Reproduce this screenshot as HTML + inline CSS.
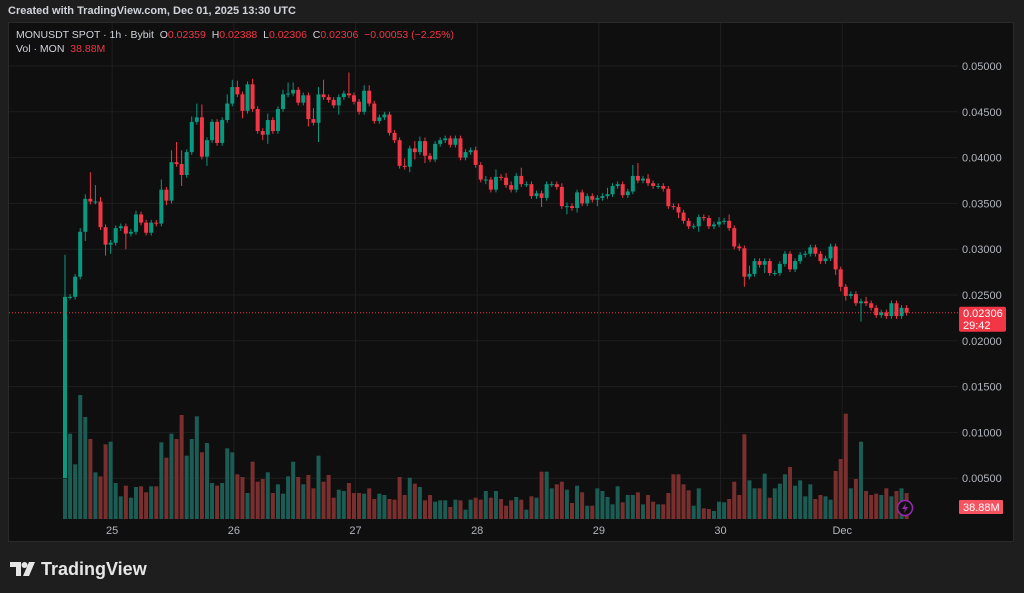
<!DOCTYPE html>
<html><head><meta charset="utf-8"><style>
html,body{margin:0;padding:0;background:#1e1e1e;width:1024px;height:593px;overflow:hidden;font-family:"Liberation Sans",sans-serif;}
#hdr{position:absolute;left:8px;top:5px;color:#d1d4dc;font-size:11px;font-weight:bold;}
#panel{position:absolute;left:8px;top:22px;width:1006px;height:520px;background:#0f0f0f;border:1px solid #2a2a2a;box-sizing:border-box;}
svg{position:absolute;left:0;top:0;}
.leg{position:absolute;left:16px;color:#d1d4dc;font-size:10.5px;white-space:pre;}
.r{color:#f23645;}
#logo{position:absolute;left:10px;top:557px;color:#e6e6e6;font-size:18px;font-weight:bold;}
</style></head><body>
<div id="hdr">Created with TradingView.com, Dec 01, 2025 13:30 UTC</div>
<div id="panel"></div>
<svg id="chart" width="1024" height="593"></svg>
<div class="leg" style="top:29px">MONUSDT SPOT · 1h · Bybit  O<span class="r">0.02359</span>  H<span class="r">0.02388</span>  L<span class="r">0.02306</span>  C<span class="r">0.02306</span>  <span class="r">−0.00053 (−2.25%)</span></div>
<div class="leg" style="top:43px">Vol · MON  <span class="r">38.88M</span></div>
<div id="logo"><svg width="26" height="18" style="position:relative;left:0;top:3px;display:inline-block"><path d="M0 2h11v14h-5v-9h-6z" fill="#e6e6e6"/><circle cx="14.5" cy="5" r="3" fill="#e6e6e6"/><path d="M19 2h6l-6 14h-6z" fill="#e6e6e6"/></svg> TradingView</div>
<script>
const closes=[0.0248,0.0248,0.0270,0.0319,0.0355,0.0352,0.0352,0.0324,0.0305,0.0307,
0.0323,0.0325,0.0317,0.0319,0.0338,0.0329,0.0318,0.0329,0.0328,0.0365,
0.0353,0.0395,0.0393,0.0381,0.0406,0.0439,0.0444,0.0401,0.0419,0.0439,
0.0416,0.0441,0.0459,0.0477,0.0469,0.0451,0.0480,0.0453,0.0429,0.0425,
0.0441,0.0429,0.0453,0.0469,0.0470,0.0474,0.0460,0.0468,0.0442,0.0438,
0.0469,0.0466,0.0463,0.0457,0.0466,0.0470,0.0468,0.0461,0.0450,0.0473,
0.0459,0.0440,0.0444,0.0447,0.0427,0.0419,0.0391,0.0390,0.0410,0.0406,
0.0418,0.0402,0.0398,0.0415,0.0419,0.0421,0.0414,0.0421,0.0400,0.0406,
0.0408,0.0392,0.0376,0.0376,0.0365,0.0379,0.0378,0.0370,0.0365,0.0380,
0.0371,0.0371,0.0358,0.0361,0.0356,0.0371,0.0371,0.0368,0.0347,0.0347,
0.0345,0.0362,0.0350,0.0358,0.0354,0.0356,0.0358,0.0360,0.0369,0.0371,
0.0359,0.0363,0.0380,0.0375,0.0377,0.0372,0.0369,0.0369,0.0366,0.0347,
0.0346,0.0340,0.0331,0.0325,0.0325,0.0335,0.0334,0.0325,0.0327,0.0330,
0.0331,0.0323,0.0303,0.0301,0.0270,0.0273,0.0287,0.0283,0.0287,0.0274,
0.0274,0.0284,0.0295,0.0278,0.0287,0.0294,0.0295,0.0302,0.0295,0.0287,
0.0290,0.0303,0.0278,0.0259,0.0249,0.0251,0.0241,0.0243,0.0241,0.0236,
0.0228,0.0231,0.0227,0.0241,0.0227,0.0236,0.02306];
const firstOpen=0.0050;
const wickUp=[46,3,3,4,5,29,18,5,3,3, 3,3,3,3,4,3,3,3,3,11, 3,13,22,15,3,6,15,14,3,3, 3,3,10,8,7,3,3,6,3,3,
7,3,3,5,12,8,3,3,3,12, 8,16,3,3,3,3,23,3,3,6, 6,3,3,3,3,3,3,8,3,8, 5,4,3,3,3,3,3,3,3,3,
3,4,3,4,3,8,3,5,4,3, 9,3,3,3,3,3,3,3,4,4, 3,3,3,3,3,3,3,7,3,3, 3,3,12,14,3,5,3,3,3,3,
3,4,3,3,3,3,3,3,3,5, 3,7,3,3,3,9,3,3,3,3, 3,3,3,3,3,3,3,3,3,3, 3,3,3,3,3,3,3,3,5,3, 3,3,3,3,3,3,3];
const wickDown=[0,3,3,3,10,3,3,3,12,10, 3,3,17,3,3,3,3,3,3,3, 5,3,3,12,3,3,3,3,10,3, 3,3,3,3,3,8,3,3,3,6,
10,3,3,3,3,3,3,3,8,3, 21,3,3,3,10,3,3,3,3,3, 3,3,3,3,3,3,3,3,6,8, 3,8,3,3,3,3,3,3,3,3,
3,3,3,5,3,3,3,3,3,3, 3,3,3,3,10,3,3,3,3,9, 3,5,3,3,3,7,3,3,3,3, 3,3,3,3,3,3,3,3,3,3,
3,6,3,3,3,6,3,3,3,3, 3,3,3,3,11,3,3,3,9,3, 3,3,3,3,3,3,3,3,3,3, 3,3,6,5,5,3,3,20,3,3, 3,3,3,3,3,3,3];
const volumes=[60,128,82,186,153,120,70,64,112,116, 54,34,50,32,48,49,40,49,49,115, 92,128,120,156,95,120,154,100,114,54,
50,54,106,100,67,63,39,86,56,60, 70,39,52,38,64,86,63,52,66,46, 95,56,66,32,44,42,54,39,39,38,
46,30,38,36,30,29,63,36,62,53, 48,28,36,26,28,28,18,29,28,14, 29,32,29,42,32,42,30,20,28,33,
29,14,34,32,71,71,46,52,56,44, 24,50,40,20,20,46,42,33,22,49, 25,36,36,40,22,36,26,22,22,39,
67,67,52,43,20,46,16,15,12,26, 25,30,56,36,127,58,46,46,68,32, 46,53,67,78,50,58,34,52,30,36,
34,29,72,90,158,46,60,116,42,36, 38,36,46,34,42,46,38.88];
const priceTicks=[0.05,0.045,0.04,0.035,0.03,0.025,0.02,0.015,0.01,0.005];
const priceTickLabels=["0.05000","0.04500","0.04000","0.03500","0.03000","0.02500","0.02000","0.01500","0.01000","0.00500"];
const timeTickIdx=[9.3,33.3,57.3,81.3,105.3,129.3,153.3];
const timeTickLabels=["25","26","27","28","29","30","Dec"];

const NS="http://www.w3.org/2000/svg";
const svg=document.getElementById('chart');
const yP=p=>524-p*9160;
const xI=i=>65+i*5.07;
const volBase=519, volPx=v=>v/1.5;
function mk(t,a){const e=document.createElementNS(NS,t);for(const k in a)e.setAttribute(k,a[k]);svg.appendChild(e);return e;}
// grid
priceTicks.forEach((p,k)=>{
 const g=mk('line',{x1:9,x2:958,y1:yP(p),y2:yP(p),stroke:'#1f1f1f','stroke-width':1});
 
 
 const t=mk('text',{x:962,y:yP(p)+4,fill:'#b2b5be','font-size':11,'font-family':'Liberation Sans, sans-serif'});
 t.textContent=priceTickLabels[k];
 
 
});
timeTickIdx.forEach((ix,k)=>{
 const x=xI(ix);
 const g=mk('line',{x1:x,x2:x,y1:23,y2:520,stroke:'#1f1f1f','stroke-width':1});
 
 
 const t=mk('text',{x:x,y:534,fill:'#b2b5be','font-size':11,'text-anchor':'middle','font-family':'Liberation Sans, sans-serif'});
 t.textContent=timeTickLabels[k];
 
 
});
// volumes
closes.forEach((c,i)=>{
 const o=i===0?firstOpen:closes[i-1];
 const up=c>=o;
 const h=volPx(volumes[i]);
 const r=mk('rect',{x:xI(i)-2,y:volBase-h,width:4,height:h,fill:up?'#1b5d54':'#7a2f2f'});
 
 
});
// candles
closes.forEach((c,i)=>{
 const o=i===0?firstOpen:closes[i-1];
 const up=c>=o;
 const col=up?'#089981':'#f23645';
 const hi=Math.max(o,c)+wickUp[i]*0.0001, lo=Math.min(o,c)-wickDown[i]*0.0001;
 const x=xI(i);
 const w=mk('line',{x1:x,x2:x,y1:yP(hi),y2:yP(lo),stroke:col,'stroke-width':1});
 
 
 const top=yP(Math.max(o,c)), bh=Math.max(1,yP(Math.min(o,c))-top);
 const b=mk('rect',{x:x-2,y:top,width:4,height:bh,fill:col});
 
 
});
// last price line
const last=closes[closes.length-1];
const pl=mk('line',{x1:9,x2:958,y1:yP(last),y2:yP(last),stroke:'#f23645','stroke-width':1,'stroke-dasharray':'1 2'});


const lb=mk('rect',{x:959,y:yP(last)-6,width:47,height:25,rx:2,fill:'#f23645'});


const lt=mk('text',{x:963,y:yP(last)+4,fill:'#fff','font-size':11,'font-family':'Liberation Sans, sans-serif'});
lt.textContent=last.toFixed(5);


const ct=mk('text',{x:963,y:yP(last)+16,fill:'#fff','font-size':11,'font-family':'Liberation Sans, sans-serif'});
ct.textContent='29:42';


const vb=mk('rect',{x:959,y:500,width:44,height:14,rx:1,fill:'#f7525f'});


const vt=mk('text',{x:963,y:511,fill:'#fff','font-size':11,'font-family':'Liberation Sans, sans-serif'});
vt.textContent='38.88M';


const ic=mk('circle',{cx:905,cy:508,r:7.5,fill:'#0f0f0f',stroke:'#9c27b0','stroke-width':1.5});


const bolt=mk('path',{d:'M906 503 L902 509 L905 509 L904 513 L908 507 L905 507 Z',fill:'#9c27b0'});


</script>
</body></html>
